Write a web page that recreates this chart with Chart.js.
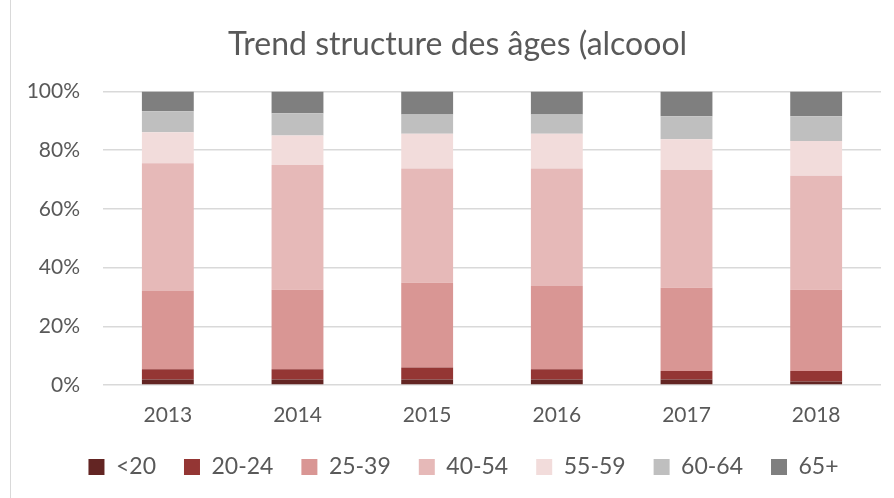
<!DOCTYPE html>
<html>
<head>
<meta charset="utf-8">
<script src="https://cdn.jsdelivr.net/npm/chart.js@4"></script>
<style>
  html, body { margin: 0; padding: 0; background: #fff; }
  #wrap { position: relative; width: 894px; height: 498px; }
  #wrap:before { content: ''; position: absolute; left: 10px; top: 0; bottom: 0; border-left: 1px solid #d9d9d9; }
</style>
</head>
<body>
<div id="wrap"><canvas id="ages" width="894" height="498"></canvas></div>
<script>
const years = ['2013', '2014', '2015', '2016', '2017', '2018'];
const groups = ['<20', '20-24', '25-39', '40-54', '55-59', '60-64', '65+'];
const colors = ['#632523', '#943634', '#d99694', '#e6b9b8', '#f2dcdb', '#bfbfbf', '#7f7f7f'];

// share of each age group per year (%)
const under20 = [1.9, 1.9, 1.9, 1.9, 1.9, 1.2];
const a20_24 = [3.5, 3.5, 4.1, 3.5, 2.9, 3.6];
const a25_39 = [26.6, 27.0, 28.8, 28.3, 28.3, 27.6];
const a40_54 = [43.5, 42.5, 38.9, 40.0, 40.1, 38.9];
const a55_59 = [10.6, 10.1, 11.9, 11.9, 10.5, 11.8];
const a60_64 = [7.1, 7.6, 6.5, 6.5, 7.8, 8.4];
const a65plus = [6.8, 7.4, 7.9, 7.9, 8.5, 8.5];

const series = [under20, a20_24, a25_39, a40_54, a55_59, a60_64, a65plus];
const yTicks = [0, 20, 40, 60, 80, 100];

const font = "Lato, 'Open Sans', sans-serif";

// title and legend sit a bit right of the plot centre in the original
const nudge = {
    id: 'nudge',
    afterLayout(chart) {
        chart.titleBlock.left += 12;
        chart.titleBlock.right += 12;
        chart.legend.left += 18;
        chart.legend.right += 18;
    }
};

const ageData = {
    labels: years,
    datasets: groups.map((g, i) => ({
        label: g,
        data: series[i],
        backgroundColor: colors[i],
        borderWidth: 0,
        barPercentage: 0.4,
        categoryPercentage: 1.0
    }))
};

const ageCfg = {
    type: 'bar',
    data: ageData,
    plugins: [nudge],
    options: {
        responsive: false,
        animation: false,
        layout: { padding: { left: 10, right: 13, top: 25, bottom: 9.5 } },
        plugins: {
            title: {
                display: true,
                text: 'Trend structure des âges (alcoool',
                color: '#595959',
                font: { family: font, size: 32, weight: 'normal' },
                padding: { top: 0, bottom: 28 }
            },
            legend: {
                position: 'bottom',
                labels: {
                    color: '#595959',
                    font: { family: font, size: 23 },
                    boxWidth: 16,
                    boxHeight: 16,
                    padding: 28
                }
            },
            tooltip: { enabled: false }
        },
        scales: {
            x: {
                stacked: true,
                afterFit: (axis) => { axis.height = 42.5; },
                grid: { display: false, drawTicks: false },
                border: { display: false },
                ticks: { color: '#595959', font: { family: font, size: 21 }, padding: 17.4 }
            },
            y: {
                stacked: true,
                min: 0,
                max: 100,
                afterBuildTicks: (axis) => { axis.ticks = yTicks.map(v => ({ value: v })); },
                afterFit: (axis) => { axis.width = 93; },
                grid: { color: '#d9d9d9', lineWidth: 1.5, drawTicks: false },
                border: { display: false },
                ticks: {
                    color: '#595959',
                    font: { family: font, size: 21 },
                    padding: 23,
                    callback: (v) => v + '%'
                }
            }
        }
    }
};

const ageChart = new Chart(document.getElementById('ages'), ageCfg);
</script>
</body>
</html>
